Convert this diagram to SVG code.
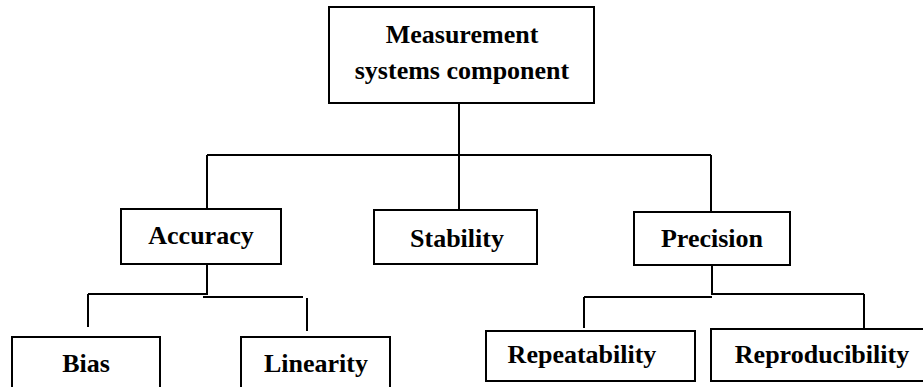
<svg xmlns="http://www.w3.org/2000/svg" width="923" height="387" viewBox="0 0 923 387">
<style>
.box{fill:#fff;stroke:#000;stroke-width:2}
.lbl{font-family:'Liberation Serif','Times New Roman','DejaVu Serif',serif;font-weight:700;font-size:26px;fill:#000;text-anchor:middle}
.ln{fill:none;stroke:#000;stroke-width:2}
</style>
<rect width="923" height="387" fill="#fff"/>
<g id="connectors">
<path class="ln" d="M459 103V210"/>
<path class="ln" d="M207 155H711M207 155V209M711 155V212"/>
<path class="ln" d="M207 264V295M88 294H207M88 294V327M203 297H303M307 298V331"/>
<path class="ln" d="M712 265V295M584 297H712M584 297V328M712 294H864M864 294V328"/>
</g>
<g id="measurement"><rect class="box" x="329" y="7" width="265" height="96"/><text class="lbl" x="462" y="43" font-family="Liberation Serif, serif">Measurement</text><text class="lbl" x="462" y="79" font-family="Liberation Serif, serif">systems component</text></g>
<g id="accuracy"><rect class="box" x="121" y="209" width="160" height="55"/><text class="lbl" x="201" y="244">Accuracy</text></g>
<g id="stability"><rect class="box" x="374" y="210" width="163" height="54"/><text class="lbl" x="457" y="247">Stability</text></g>
<g id="precision"><rect class="box" x="634" y="212" width="156" height="53"/><text class="lbl" x="712" y="247">Precision</text></g>
<g id="bias"><rect class="box" x="12" y="337" width="148" height="60"/><text class="lbl" x="86" y="372">Bias</text></g>
<g id="linearity"><rect class="box" x="241" y="337" width="149" height="60"/><text class="lbl" x="316" y="372">Linearity</text></g>
<g id="repeatability"><rect class="box" x="486" y="331" width="209" height="50"/><text class="lbl" x="582" y="363">Repeatability</text></g>
<g id="reproducibility"><rect class="box" x="711" y="329" width="220" height="52"/><text class="lbl" x="822" y="363">Reproducibility</text></g>
</svg>
